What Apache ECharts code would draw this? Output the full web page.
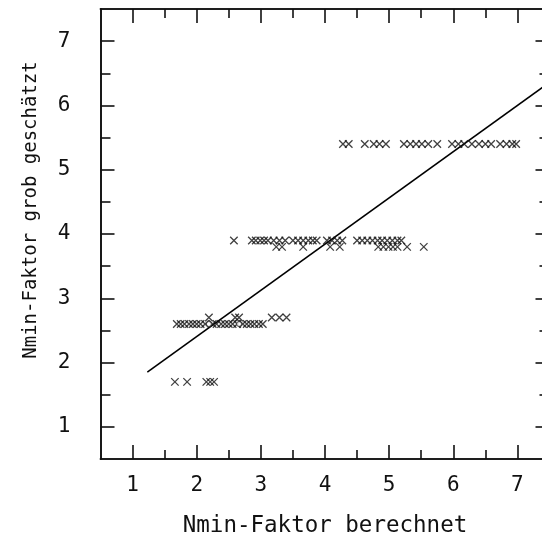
<!DOCTYPE html>
<html>
<head>
<meta charset="utf-8">
<script src="https://cdn.jsdelivr.net/npm/echarts@6/dist/echarts.min.js"></script>
<style>
  html, body { margin: 0; padding: 0; background: #fff; }
  #chart { width: 542px; height: 539px; }
</style>
</head>
<body>
<div id="chart"></div>
<script>
// Nmin-Faktor: computed (x) vs roughly estimated (y), with fit line.

// estimated levels (y) and the computed values (x) read off each row
const row17 = [1.66, 1.85, 2.15, 2.21, 2.27];
const row26 = [1.69, 1.75, 1.81, 1.88, 1.94, 2.0, 2.06, 2.13, 2.25, 2.31, 2.38,
               2.44, 2.5, 2.56, 2.63, 2.72, 2.78, 2.84, 2.9, 2.97, 3.03];
const row27 = [2.19, 2.6, 2.66, 3.17, 3.29, 3.4];
const row38 = [3.24, 3.33, 3.66, 4.08, 4.23, 4.83, 4.91, 4.99, 5.06, 5.13, 5.28, 5.54];
const row39 = [2.58, 2.86, 2.92, 2.99, 3.05, 3.11, 3.2, 3.29, 3.38, 3.5, 3.58, 3.66,
               3.74, 3.81, 3.87, 4.03, 4.11, 4.19, 4.27, 4.5, 4.58, 4.66, 4.74, 4.82,
               4.89, 4.97, 5.05, 5.13, 5.19];
const row54 = [4.28, 4.37, 4.62, 4.76, 4.85, 4.95, 5.23, 5.33, 5.42, 5.51, 5.61, 5.75,
               5.98, 6.08, 6.17, 6.29, 6.4, 6.5, 6.59, 6.73, 6.83, 6.92, 6.98];
const openPoints = [[2.19, 2.6], [2.66, 2.6]];
const fitLine = [[1.23, 1.85], [7.5, 6.36]];

const majorTicks = [1, 2, 3, 4, 5, 6, 7];
const minorTicks = [1.5, 2.5, 3.5, 4.5, 5.5, 6.5];

const rows = [[1.7, row17], [2.6, row26], [2.7, row27], [3.8, row38], [3.9, row39], [5.4, row54]];
const crosses = [];
rows.forEach(([y, xs]) => xs.forEach((x) => crosses.push([x, y])));

const FONT = "DejaVu Sans Mono";
const lineStyle = { color: "#111", width: 1.6 };

function axis(pos, ticks, len, extra) {
  return Object.assign({
    type: "value", position: pos, min: 0.5, max: 7.5,
    axisLine: { show: true, onZero: false, lineStyle },
    axisTick: { show: true, inside: true, length: len, customValues: ticks, lineStyle },
    axisLabel: { show: false },
    splitLine: { show: false },
  }, extra || {});
}

const labelStyle = { show: true, customValues: majorTicks, color: "#111", fontFamily: FONT, fontSize: 21 };

const chart = echarts.init(document.getElementById("chart"));
chart.setOption({
  animation: false,
  // the frame runs a few px past the right edge in the original, so don't let v6 shrink it
  grid: { left: 100.5, top: 9, width: 449, height: 450, outerBoundsMode: "none", containLabel: false },
  xAxis: [
    axis("bottom", majorTicks, 14, {
      axisLabel: Object.assign({ margin: 16 }, labelStyle),
      name: "Nmin-Faktor berechnet", nameLocation: "middle", nameGap: 56,
      nameTextStyle: { color: "#111", fontFamily: FONT, fontSize: 22.5 },
    }),
    axis("bottom", minorTicks, 9),
    axis("top", majorTicks, 14),
    axis("top", minorTicks, 9),
  ],
  yAxis: [
    axis("left", majorTicks, 14, {
      axisLabel: Object.assign({ margin: 30 }, labelStyle),
      name: "Nmin-Faktor grob geschätzt", nameLocation: "middle", nameGap: 60,
      nameTextStyle: { color: "#111", fontFamily: FONT, fontSize: 19, padding: [0, 0, 0, 48] },
    }),
    axis("left", minorTicks, 10),
    axis("right", majorTicks, 14),
    axis("right", minorTicks, 10),
  ],
  series: [
    {
      type: "line", data: fitLine, showSymbol: false, symbol: "none",
      lineStyle: { color: "#000", width: 1.6 }, clip: true, z: 3,
    },
    {
      type: "scatter", data: crosses, symbol: "path://M0,0L10,10M10,0L0,10",
      symbolSize: 7.5,
      itemStyle: { color: "rgba(0,0,0,0)", borderColor: "#111", borderWidth: 1.3 },
      z: 4,
    },
    {
      type: "scatter", data: openPoints, symbol: "circle", symbolSize: 5,
      itemStyle: { color: "#fff", borderColor: "#222", borderWidth: 1 },
      z: 5,
    },
  ],
});
</script>
</body>
</html>
